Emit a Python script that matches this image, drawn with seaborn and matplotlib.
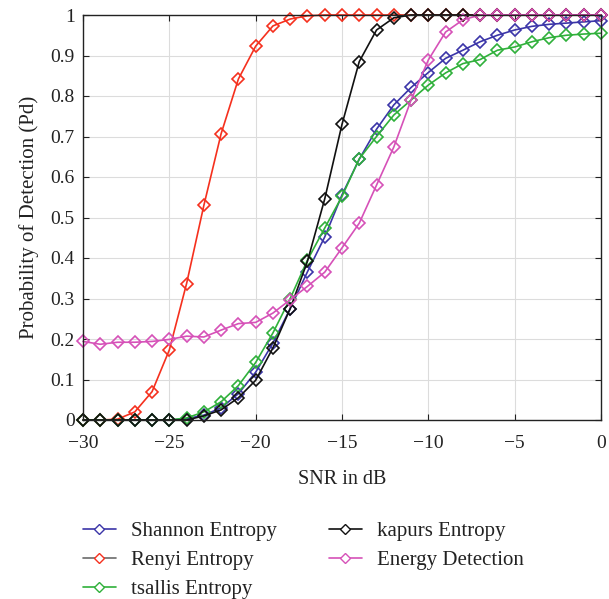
import numpy as np
import pandas as pd
import seaborn as sns
import matplotlib
matplotlib.use("Agg")
import matplotlib.pyplot as plt
from matplotlib.lines import Line2D

snr = list(range(-30, 1))

shannon = [0, 0, 0, 0, 0, 0, 0.003, 0.012, 0.03, 0.065, 0.118, 0.19, 0.275, 0.366,
           0.452, 0.556, 0.644, 0.718, 0.778, 0.821, 0.858, 0.893, 0.913, 0.934,
           0.95, 0.963, 0.972, 0.977, 0.98, 0.983, 0.986]
renyi = [0, 0, 0.002, 0.02, 0.07, 0.173, 0.337, 0.53, 0.707, 0.842, 0.923, 0.973,
         0.99, 0.998, 1, 1, 1, 1, 1, 1, 1, 1, 1, 1, 1, 1, 1, 1, 1, 1, 1]
tsallis = [0, 0, 0, 0, 0, 0, 0.005, 0.02, 0.045, 0.085, 0.142, 0.215, 0.30, 0.395,
           0.474, 0.552, 0.645, 0.70, 0.753, 0.79, 0.827, 0.857, 0.88, 0.89,
           0.913, 0.921, 0.934, 0.944, 0.95, 0.953, 0.955]
kapur = [0, 0, 0, 0, 0, 0, 0, 0.01, 0.025, 0.055, 0.098, 0.178, 0.275, 0.392,
         0.546, 0.73, 0.885, 0.963, 0.993, 1, 1, 1, 1, 1, 1, 1, 1, 1, 1, 1, 1]
energy = [0.194, 0.187, 0.192, 0.192, 0.194, 0.199, 0.207, 0.205, 0.222, 0.238,
          0.241, 0.264, 0.297, 0.33, 0.365, 0.425, 0.486, 0.58, 0.674, 0.79,
          0.889, 0.958, 0.988, 1, 1, 1, 1, 1, 1, 1, 1]

labels = ["Shannon Entropy", "Renyi Entropy", "tsallis Entropy",
          "kapurs Entropy", "Energy Detection"]
series = [shannon, renyi, tsallis, kapur, energy]
colors = ["#3b35a8", "#f5301e", "#2fb03a", "#111111", "#d651b8"]
legend_line_colors = ["#3b35a8", "#6b6b6b", "#2fb03a", "#111111", "#d651b8"]

sns.set_theme(style="whitegrid")
plt.rcParams['font.family'] = ['Liberation Serif', 'DejaVu Serif']

fig = plt.figure(figsize=(6.09, 5.99), dpi=100)
ax = fig.add_axes([83/609, 1-420/599, 518/609, 405/599])

for i in range(5):
    df = pd.DataFrame({"snr": snr, "pd": series[i]})
    sns.lineplot(data=df, x="snr", y="pd", ax=ax, color=colors[i], lw=1.2,
                 marker="D", markersize=6.3, markerfacecolor="none",
                 markeredgecolor=colors[i], markeredgewidth=1.2, clip_on=False)

ax.set_xlim(-30, 0)
ax.set_ylim(0, 1)
ax.set_xticks(range(-30, 1, 5))
ax.set_xticklabels(["\u221230", "\u221225", "\u221220", "\u221215", "\u221210", "\u22125", "0"])
ax.set_yticks(np.arange(0, 1.01, 0.1))
ax.set_yticklabels(["0", "0.1", "0.2", "0.3", "0.4", "0.5", "0.6", "0.7", "0.8", "0.9", "1"])
ax.tick_params(axis="both", labelsize=14, colors="#222222", direction="in",
               length=4, width=0.8, top=True, right=True, left=True, bottom=True)
ax.tick_params(axis="x", pad=11)
ax.tick_params(axis="y", pad=6)
ax.grid(True, color="#dcdcdc", lw=0.8)
for s in ax.spines.values():
    s.set_visible(True)
    s.set_color("#222222")
    s.set_linewidth(1.0)
ax.set_xlabel("SNR in dB", fontsize=14.5, color="#222222", labelpad=13)
ax.set_ylabel("Probability of Detection (Pd)", fontsize=15, color="#222222", labelpad=8)

handles = [Line2D([0], [0], color=legend_line_colors[i], lw=1.2, marker="D",
                  markersize=5, markerfacecolor="white", markeredgecolor=colors[i])
           for i in range(5)]
leg = fig.legend(handles, labels, ncol=2, loc="upper left",
                 bbox_to_anchor=(64/609, 1-503/599), frameon=False,
                 fontsize=15, handlelength=1.6, columnspacing=2.5,
                 labelspacing=0.45, handletextpad=0.7)
for t in leg.get_texts():
    t.set_color("#222222")

fig.savefig("out.png", dpi=100)
